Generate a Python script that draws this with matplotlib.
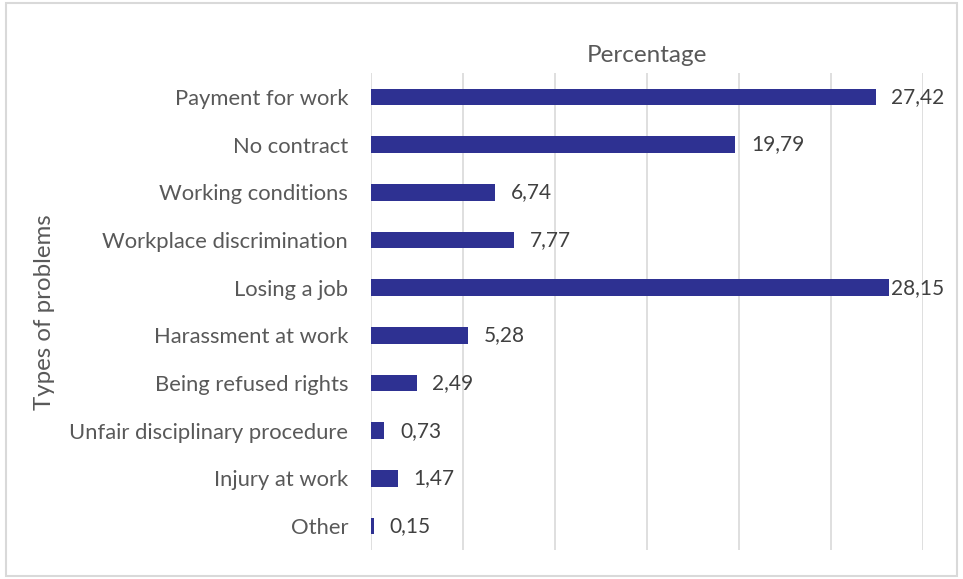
import matplotlib.pyplot as plt
from matplotlib.patches import Rectangle

# Problem types reported and their share (%)
problems = ["Payment for work", "No contract", "Working conditions",
            "Workplace discrimination", "Losing a job", "Harassment at work",
            "Being refused rights", "Unfair disciplinary procedure",
            "Injury at work", "Other"]
shares = [27.42, 19.79, 6.74, 7.77, 28.15, 5.28, 2.49, 0.73, 1.47, 0.15]

plt.rcParams['font.family'] = ['Lato', 'DejaVu Sans']
bar_color = "#2E3192"
text_color = "#595959"

fig = plt.figure(figsize=(9.63, 5.79), dpi=100)
ax = fig.add_axes([0.3853, 0.0501, 0.5732, 0.8238])

ypos = list(range(len(problems)))
ax.barh(ypos, shares, height=0.35, color=bar_color, zorder=3)

# value labels just past the bar end, kept inside the plot on the right
for y, v in zip(ypos, shares):
    ax.text(min(v + 0.85, 28.25), y, f"{v:.2f}".replace(".", ","),
            va="center", ha="left", fontsize=15, color="#404040", zorder=4)

ax.set_xlim(0, 30)
ax.set_ylim(len(problems) - 0.5, -0.5)
ax.set_xticks(range(0, 31, 5))
ax.set_xticklabels([])
ax.tick_params(axis="x", length=0)
ax.set_yticks(ypos)
ax.set_yticklabels(problems, fontsize=15.8, color=text_color)
ax.tick_params(axis="y", length=0, pad=16.5)
ax.grid(axis="x", color="#D9D9D9", linewidth=1.2, zorder=0)
for s in ax.spines.values():
    s.set_visible(False)

fig.text(0.672, 0.904, "Percentage", fontsize=17.5, color=text_color,
         ha="center", va="center")
fig.text(0.0467, 0.461, "Types of problems", rotation=90, fontsize=17.3,
         color=text_color, ha="center", va="center")

# outer chart border
fig.patches.append(Rectangle((0.006, 0.005), 0.988, 0.99, transform=fig.transFigure,
                             fill=False, edgecolor="#D9D9D9", linewidth=1.5))

fig.savefig("out.png", dpi=100)
